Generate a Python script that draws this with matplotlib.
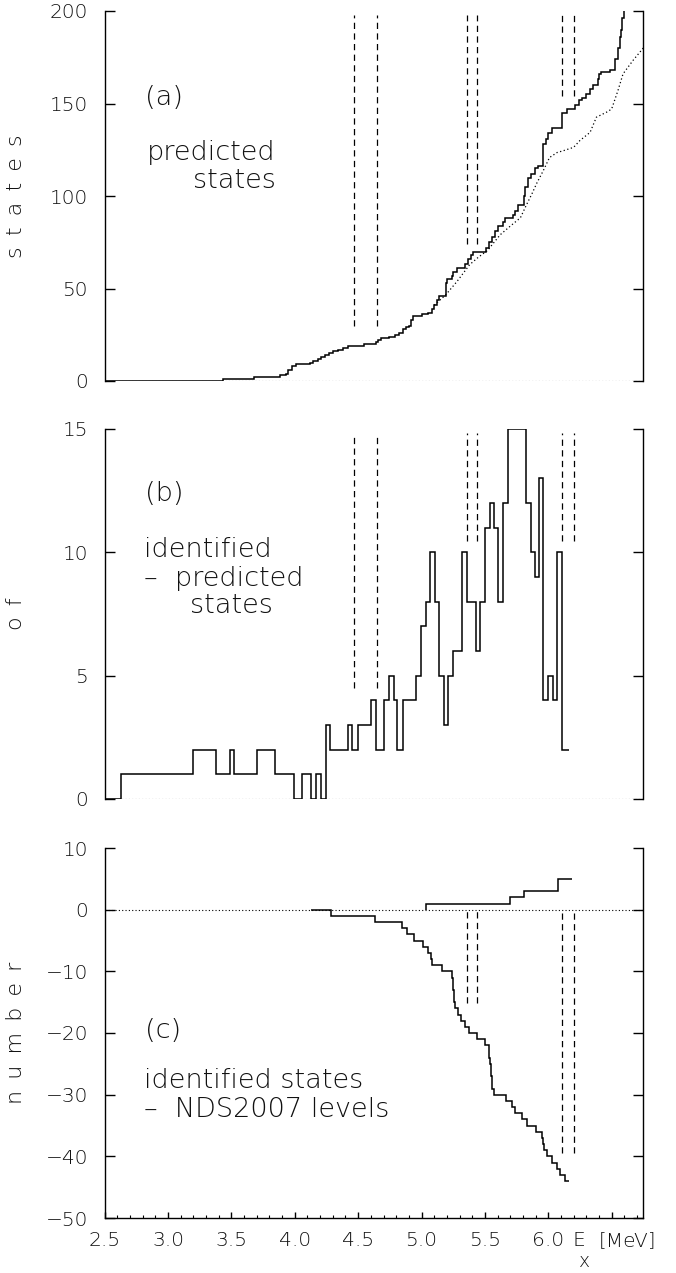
import numpy as np
import matplotlib
matplotlib.use("Agg")
import matplotlib.pyplot as plt
from matplotlib.ticker import MultipleLocator

plt.rcParams['font.family'] = ['DejaVu Sans']
plt.rcParams['font.weight'] = 'light'
plt.rcParams['axes.labelweight'] = 'light'

# ---- panel (a): cumulative number of predicted states
a_start = [2.50, 3.43, 3.68, 3.88, 3.93, 3.95, 3.98, 4.01, 4.12, 4.14, 4.18, 4.21,
           4.24, 4.27, 4.30, 4.34, 4.38, 4.42, 4.55, 4.64, 4.66, 4.68, 4.74, 4.79,
           4.82, 4.85, 4.88, 4.90, 4.92, 4.93, 5.00, 5.05, 5.08, 5.10, 5.12, 5.14,
           5.19, 5.195, 5.20, 5.24, 5.25, 5.28, 5.34, 5.37, 5.39, 5.41, 5.51, 5.53,
           5.56, 5.58, 5.60, 5.64, 5.66, 5.72, 5.74, 5.76, 5.81, 5.82, 5.84, 5.86,
           5.895, 5.92, 5.96, 5.98, 6.00, 6.03, 6.11, 6.15, 6.21, 6.24, 6.27, 6.30,
           6.33, 6.35, 6.39, 6.40, 6.42, 6.49, 6.53, 6.55, 6.565, 6.575, 6.585, 6.595,
           6.60]
a_end = 6.62
a_count = [0, 1, 2, 3, 4, 6, 8, 9, 10, 11, 12, 13,
           14, 15, 16, 17, 18, 19, 20, 21, 22, 23, 24, 25,
           26, 28, 29, 30, 33, 35, 36, 37, 39, 41, 44, 46,
           48, 53, 55, 57, 59, 61, 63, 66, 68, 70, 72, 75,
           78, 81, 84, 86, 88, 90, 92, 95, 100, 105, 110, 112,
           115, 116, 128, 131, 134, 137, 145, 147, 149, 152, 153, 155,
           158, 160, 163, 166, 167, 168, 174, 180, 186, 190, 196, 200,
           204]
a_dot_x = [5.10, 5.19, 5.28, 5.38, 5.45, 5.52, 5.62, 5.70, 5.78, 5.83, 5.87, 5.91,
           5.96, 6.01, 6.07, 6.12, 6.20, 6.25, 6.33, 6.38, 6.46, 6.50, 6.55, 6.59,
           6.67, 6.75]
a_dot_y = [41, 46.5, 53.8, 62.9, 67, 70.5, 79, 83.7, 88.2, 95.5, 101, 107,
           113.6, 120.8, 123.5, 124.5, 126.3, 130, 134.4, 142.6, 145.3, 147, 157, 166,
           173.4, 180]

# ---- panel (b): identified - predicted
b_edges = [2.50, 2.625, 3.20, 3.38, 3.485, 3.52, 3.70, 3.845, 3.99, 4.06, 4.13, 4.17,
           4.205, 4.245, 4.28, 4.42, 4.455, 4.495, 4.60, 4.64, 4.705, 4.745, 4.78, 4.81,
           4.85, 4.96, 4.995, 5.035, 5.07, 5.105, 5.14, 5.18, 5.21, 5.245, 5.32, 5.355,
           5.43, 5.46, 5.50, 5.54, 5.575, 5.605, 5.64, 5.68, 5.825, 5.86, 5.895, 5.93,
           5.96, 6.00, 6.035, 6.07, 6.105, 6.16]
b_vals = [0, 1, 2, 1, 2, 1, 2, 1, 0, 1, 0, 1,
          0, 3, 2, 3, 2, 3, 4, 2, 4, 5, 4, 2,
          4, 5, 7, 8, 10, 8, 5, 3, 5, 6, 10, 8,
          6, 8, 11, 12, 11, 8, 12, 15, 12, 10, 9, 13,
          4, 5, 4, 10, 2]

# ---- panel (c): identified states - NDS2007 levels
c_up_edges = [5.034, 5.036, 5.70, 5.81, 6.08, 6.19]
c_up_vals = [0, 1, 2, 3, 5]
c_lo_edges = [4.125, 4.285, 4.63, 4.845, 4.885, 4.94, 5.015, 5.055, 5.073, 5.086, 5.16,
              5.238, 5.245, 5.25, 5.255, 5.26, 5.268, 5.285, 5.31, 5.34, 5.375, 5.44,
              5.50, 5.53, 5.535, 5.54, 5.545, 5.55, 5.555, 5.56, 5.575, 5.665, 5.715,
              5.74, 5.795, 5.83, 5.90, 5.95, 5.955, 5.965, 5.99, 6.03, 6.07, 6.09,
              6.135, 6.165]
c_lo_vals = [0, -1, -2, -3, -4, -5, -6, -7, -8, -9,
             -10, -11, -12, -13, -14, -15, -16, -17, -18, -19, -20,
             -21, -22, -23, -24, -25, -26, -27, -28, -29,
             -30, -31, -32, -33, -34, -35, -36, -37, -38, -39,
             -40, -41, -42, -43, -44]

# separation-energy markers (x, ymin, ymax) per panel
mark_x = [4.465, 4.645, 5.355, 5.435, 6.11, 6.205]
a_mark_lo = [29.5, 29.5, 74, 74, 154, 154]
a_mark_hi = [197.6] * 6
b_mark_lo = [4.5, 4.5, 10.45, 10.45, 10.45, 10.45]
b_mark_hi = [14.85] * 6
c_mark_x = [5.355, 5.435, 6.11, 6.205]
c_mark_lo = [-15.1, -15.1, -39.4, -39.4]
c_mark_hi = [0, 0, 0, 0]

W, H = 676, 1273
fig = plt.figure(figsize=(W / 100, H / 100), dpi=100)

left = 104.7 / W
width = (643.3 - 104.7) / W
tops = [11, 429, 848]
hgt = 370

txtc = '#111111'
fs = 14.5      # tick labels
fa = 19.5      # panel annotations
dash = (0, (5, 3.5))
dots = (0, (1, 2))
sp = '\u2002'

axes = []
for t in tops:
    ax = fig.add_axes([left, 1 - (t + hgt) / H, width, hgt / H])
    ax.set_xlim(2.5, 6.75)
    ax.spines['top'].set_visible(False)
    for s in ax.spines.values():
        s.set_linewidth(1.0)
    ax.tick_params(axis='y', which='both', direction='in', length=7.5, width=1.0,
                   left=True, right=True, pad=12, labelsize=fs, labelcolor=txtc)
    ax.axhline(0, color='k', lw=0.8, ls=dots)
    axes.append(ax)

ax_a, ax_b, ax_c = axes

for ax in (ax_a, ax_b):
    ax.spines['bottom'].set_visible(False)
    ax.tick_params(axis='x', bottom=False, labelbottom=False)

# (a)
ax_a.set_ylim(0, 200)
ax_a.set_yticks([0, 50, 100, 150, 200])
ax_a.plot(a_dot_x, a_dot_y, color='k', lw=0.9, ls=dots)
ax_a.stairs(a_count, a_start + [a_end], baseline=None, color='k', lw=1.1)
ax_a.vlines(mark_x, a_mark_lo, a_mark_hi, colors='k', lw=0.9, linestyles=dash)
ax_a.text(2.82, 153, '(a)', fontsize=fa, color=txtc, va='center')
ax_a.text(3.85, 123.5, 'predicted', fontsize=fa, color=txtc, ha='right', va='center')
ax_a.text(3.85, 108.5, 'states', fontsize=fa, color=txtc, ha='right', va='center')
ax_a.set_ylabel(sp.join('states'), fontsize=fs + 1.5, color=txtc, fontweight='light')

# (b)
ax_b.set_ylim(0, 15)
ax_b.set_yticks([0, 5, 10, 15])
ax_b.stairs(b_vals, b_edges, baseline=None, color='k', lw=1.1)
ax_b.vlines(mark_x, b_mark_lo, b_mark_hi, colors='k', lw=0.9, linestyles=dash)
ax_b.text(2.82, 12.4, '(b)', fontsize=fa, color=txtc, va='center')
ax_b.text(2.81, 10.1, 'identified', fontsize=fa, color=txtc, va='center')
ax_b.text(2.81, 8.95, '\u2013  predicted', fontsize=fa, color=txtc, va='center')
ax_b.text(3.17, 7.85, 'states', fontsize=fa, color=txtc, va='center')
ax_b.set_ylabel(sp.join('of'), fontsize=fs + 1.5, color=txtc, fontweight='light')

# (c)
ax_c.set_ylim(-50, 10)
ax_c.set_yticks(np.arange(-50, 11, 10))
ax_c.set_yticklabels(['\u221250', '\u221240', '\u221230', '\u221220', '\u221210', '0', '10'])
ax_c.stairs(c_up_vals, c_up_edges, baseline=None, color='k', lw=1.1)
ax_c.stairs(c_lo_vals, c_lo_edges, baseline=None, color='k', lw=1.1)
ax_c.vlines(c_mark_x, c_mark_lo, c_mark_hi, colors='k', lw=0.9, linestyles=dash)
ax_c.text(2.82, -19.6, '(c)', fontsize=fa, color=txtc, va='center')
ax_c.text(2.81, -27.7, 'identified states', fontsize=fa, color=txtc, va='center')
ax_c.text(2.81, -32.4, '\u2013  NDS2007 levels', fontsize=fa, color=txtc, va='center')
ax_c.set_ylabel(sp.join('number'), fontsize=fs + 1.5, color=txtc, fontweight='light')

ax_c.set_xticks(np.arange(2.5, 6.51, 0.5))
ax_c.set_xticklabels(['2.5', '3.0', '3.5', '4.0', '4.5', '5.0', '5.5', '6.0', ''])
ax_c.xaxis.set_minor_locator(MultipleLocator(0.1))
ax_c.tick_params(axis='x', which='major', direction='in', length=4, width=1.0,
                 pad=9, labelsize=fs, labelcolor=txtc, top=False)
ax_c.tick_params(axis='x', which='minor', direction='in', length=2, width=0.8, top=False)
tr = ax_c.get_xaxis_transform()
ax_c.text(6.24, -0.06, 'E', transform=tr, fontsize=fs, color=txtc, ha='center', va='center')
ax_c.text(6.285, -0.118, 'x', transform=tr, fontsize=fs - 1, color=txtc, ha='center', va='center')
ax_c.text(6.627, -0.06, '[MeV]', transform=tr, fontsize=fs, color=txtc, ha='center', va='center')

for ax in axes:
    ax.yaxis.set_label_coords((26 - 104.7) / (643.3 - 104.7), 0.5)

fig.savefig('out.png', dpi=100)
